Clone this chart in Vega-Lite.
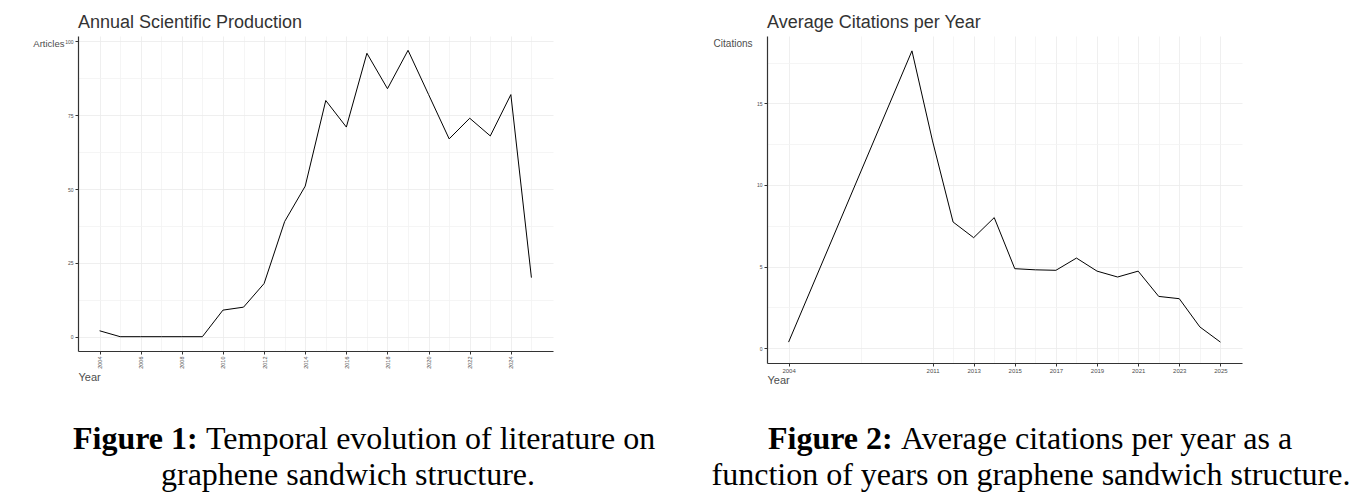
{
  "$schema": "https://vega.github.io/schema/vega-lite/v6.json",
  "background": "white",
  "padding": {"left": 32, "top": 14, "right": 0, "bottom": 0},
  "bounds": "flush",
  "columns": 2,
  "spacing": {"row": 58, "column": 149},
  "config": {
    "view": {"stroke": null},
    "font": "Liberation Sans",
    "axis": {
      "domainColor": "#333333",
      "domainWidth": 1.2,
      "tickColor": "#333333",
      "tickSize": 3,
      "labelColor": "#4d4d4d",
      "labelPadding": 2,
      "labelOverlap": false,
      "labelFlush": false,
      "titleColor": "#4d4d4d",
      "titleFontWeight": "normal",
      "gridWidth": 0.8
    },
    "title": {"fontWeight": "normal", "color": "#333333", "fontSize": 18, "anchor": "start", "frame": "group", "offset": 4}
  },
  "concat": [
    {
      "width": 475,
      "height": 315,
      "title": {"text": "Annual Scientific Production"},
      "data": {"values": [
        {"Year": 2004, "Articles": 2}, {"Year": 2005, "Articles": 0}, {"Year": 2006, "Articles": 0},
        {"Year": 2007, "Articles": 0}, {"Year": 2008, "Articles": 0}, {"Year": 2009, "Articles": 0},
        {"Year": 2010, "Articles": 9}, {"Year": 2011, "Articles": 10}, {"Year": 2012, "Articles": 18},
        {"Year": 2013, "Articles": 39}, {"Year": 2014, "Articles": 51}, {"Year": 2015, "Articles": 80},
        {"Year": 2016, "Articles": 71}, {"Year": 2017, "Articles": 96}, {"Year": 2018, "Articles": 84},
        {"Year": 2019, "Articles": 97}, {"Year": 2020, "Articles": 82}, {"Year": 2021, "Articles": 67},
        {"Year": 2022, "Articles": 74}, {"Year": 2023, "Articles": 68}, {"Year": 2024, "Articles": 82},
        {"Year": 2025, "Articles": 20}
      ]},
      "mark": {"type": "line", "color": "#000000", "strokeWidth": 1},
      "encoding": {
        "x": {
          "field": "Year", "type": "quantitative",
          "scale": {"domain": [2002.95, 2026.05], "nice": false, "zero": false},
          "axis": {
            "values": [2004, 2005, 2006, 2007, 2008, 2009, 2010, 2011, 2012, 2013, 2014, 2015, 2016, 2017, 2018, 2019, 2020, 2021, 2022, 2023, 2024, 2025],
            "format": "d",
            "labelExpr": "datum.value % 2 === 0 ? datum.label : ''",
            "tickOpacity": {"condition": {"test": "datum.value % 2 === 0", "value": 1}, "value": 0},
            "gridColor": {"condition": {"test": "datum.value % 2 === 0", "value": "#ebebeb"}, "value": "#f3f3f3"},
            "labelAngle": 270,
            "labelAlign": "right",
            "labelBaseline": "middle",
            "labelFontSize": 5.5,
            "title": "Year",
            "titleFontSize": 11,
            "titleAnchor": "start",
            "titleAlign": "left",
            "titlePadding": 3
          }
        },
        "y": {
          "field": "Articles", "type": "quantitative",
          "scale": {"domain": [-4.85, 101.85], "nice": false, "zero": false},
          "axis": {
            "values": [0, 12.5, 25, 37.5, 50, 62.5, 75, 87.5, 100],
            "labelExpr": "datum.value % 25 === 0 ? datum.label : ''",
            "tickOpacity": {"condition": {"test": "datum.value % 25 === 0", "value": 1}, "value": 0},
            "gridColor": {"condition": {"test": "datum.value % 25 === 0", "value": "#ebebeb"}, "value": "#f3f3f3"},
            "labelFontSize": 5,
            "title": "Articles",
            "titleFontSize": 9.5,
            "titleAngle": 0,
            "titleAlign": "right",
            "titleBaseline": "middle",
            "titleX": -14,
            "titleY": 7
          }
        }
      }
    },
    {
      "width": 475,
      "height": 327,
      "title": {"text": "Average Citations per Year"},
      "data": {"values": [
        {"Year": 2004, "Citations": 0.37}, {"Year": 2010, "Citations": 18.22}, {"Year": 2011, "Citations": 12.7},
        {"Year": 2012, "Citations": 7.73}, {"Year": 2013, "Citations": 6.77}, {"Year": 2014, "Citations": 8.0},
        {"Year": 2015, "Citations": 4.87}, {"Year": 2016, "Citations": 4.8}, {"Year": 2017, "Citations": 4.77},
        {"Year": 2018, "Citations": 5.52}, {"Year": 2019, "Citations": 4.72}, {"Year": 2020, "Citations": 4.36},
        {"Year": 2021, "Citations": 4.72}, {"Year": 2022, "Citations": 3.17}, {"Year": 2023, "Citations": 3.03},
        {"Year": 2024, "Citations": 1.3}, {"Year": 2025, "Citations": 0.37}
      ]},
      "mark": {"type": "line", "color": "#000000", "strokeWidth": 1},
      "encoding": {
        "x": {
          "field": "Year", "type": "quantitative",
          "scale": {"domain": [2002.95, 2026.05], "nice": false, "zero": false},
          "axis": {
            "values": [2004, 2007.5, 2011, 2012, 2013, 2014, 2015, 2016, 2017, 2018, 2019, 2020, 2021, 2022, 2023, 2024, 2025],
            "format": "d",
            "labelExpr": "(datum.value === 2004 || (datum.value >= 2011 && datum.value % 2 === 1)) ? datum.label : ''",
            "tickOpacity": {"condition": {"test": "datum.value === 2004 || (datum.value >= 2011 && datum.value % 2 === 1)", "value": 1}, "value": 0},
            "gridColor": {"condition": {"test": "datum.value === 2004 || (datum.value >= 2011 && datum.value % 2 === 1)", "value": "#ebebeb"}, "value": "#f3f3f3"},
            "labelAngle": 0,
            "labelFontSize": 6,
            "labelPadding": 1,
            "title": "Year",
            "titleFontSize": 11,
            "titleAnchor": "start",
            "titleAlign": "left",
            "titlePadding": 1
          }
        },
        "y": {
          "field": "Citations", "type": "quantitative",
          "scale": {"domain": [-0.911, 19.131], "nice": false, "zero": false},
          "axis": {
            "values": [0, 2.5, 5, 7.5, 10, 12.5, 15, 17.5],
            "labelExpr": "datum.value % 5 === 0 ? datum.label : ''",
            "tickOpacity": {"condition": {"test": "datum.value % 5 === 0", "value": 1}, "value": 0},
            "gridColor": {"condition": {"test": "datum.value % 5 === 0", "value": "#ebebeb"}, "value": "#f3f3f3"},
            "labelFontSize": 5,
            "title": "Citations",
            "titleFontSize": 10,
            "titleAngle": 0,
            "titleAlign": "right",
            "titleBaseline": "middle",
            "titleX": -15,
            "titleY": 7
          }
        }
      }
    },
    {
      "width": 540,
      "height": 72,
      "data": {"values": [
        {"line": 1, "bold": "Figure 1:", "text": "Temporal evolution of literature on"},
        {"line": 2, "bold": "", "text": "graphene sandwich structure."}
      ]},
      "encoding": {
        "y": {"field": "line", "type": "ordinal", "axis": null}
      },
      "layer": [
        {
          "transform": [{"filter": "datum.line === 1"}],
          "mark": {"type": "text", "font": "Liberation Serif", "fontSize": 32, "fontWeight": "bold", "align": "left", "baseline": "middle", "color": "#000000", "dx": -275},
          "encoding": {"text": {"field": "bold"}}
        },
        {
          "transform": [{"filter": "datum.line === 1"}],
          "mark": {"type": "text", "font": "Liberation Serif", "fontSize": 32, "align": "left", "baseline": "middle", "color": "#000000", "dx": -142},
          "encoding": {"text": {"field": "text"}}
        },
        {
          "transform": [{"filter": "datum.line === 2"}],
          "mark": {"type": "text", "font": "Liberation Serif", "fontSize": 32, "align": "center", "baseline": "middle", "color": "#000000"},
          "encoding": {"text": {"field": "text"}}
        }
      ]
    },
    {
      "width": 528,
      "height": 72,
      "data": {"values": [
        {"line": 1, "bold": "Figure 2:", "text": "Average citations per year as a"},
        {"line": 2, "bold": "", "text": "function of years on graphene sandwich structure."}
      ]},
      "encoding": {
        "y": {"field": "line", "type": "ordinal", "axis": null}
      },
      "layer": [
        {
          "transform": [{"filter": "datum.line === 1"}],
          "mark": {"type": "text", "font": "Liberation Serif", "fontSize": 32, "fontWeight": "bold", "align": "left", "baseline": "middle", "color": "#000000", "dx": -263},
          "encoding": {"text": {"field": "bold"}}
        },
        {
          "transform": [{"filter": "datum.line === 1"}],
          "mark": {"type": "text", "font": "Liberation Serif", "fontSize": 32, "align": "left", "baseline": "middle", "color": "#000000", "dx": -130},
          "encoding": {"text": {"field": "text"}}
        },
        {
          "transform": [{"filter": "datum.line === 2"}],
          "mark": {"type": "text", "font": "Liberation Serif", "fontSize": 32, "align": "center", "baseline": "middle", "color": "#000000"},
          "encoding": {"text": {"field": "text"}}
        }
      ]
    }
  ]
}
